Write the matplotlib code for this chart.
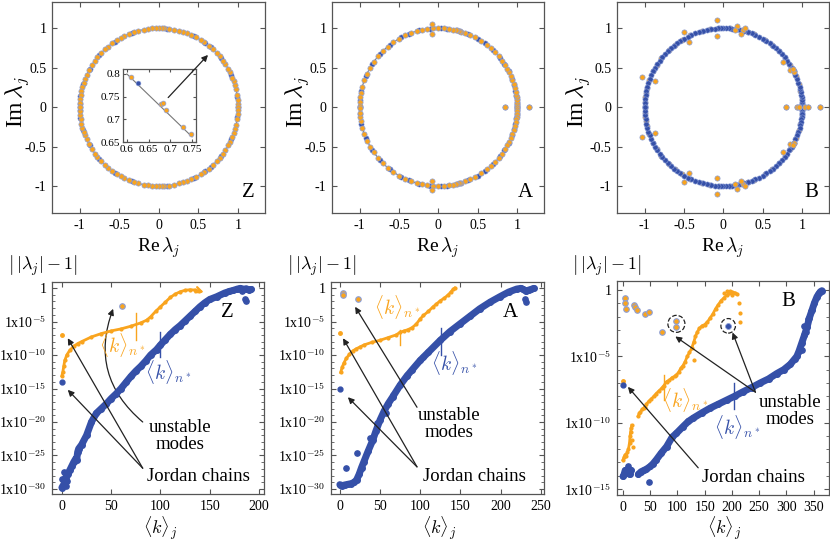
import numpy as np
import matplotlib
matplotlib.use('Agg')
import matplotlib.pyplot as plt
from matplotlib.patches import Circle, FancyArrowPatch

plt.rcParams['font.family'] = 'serif'
plt.rcParams['font.serif'] = ['Liberation Serif', 'DejaVu Serif']
plt.rcParams['mathtext.fontset'] = 'cm'
plt.rcParams['axes.unicode_minus'] = False

ORANGE = '#F9A41E'
BLUE = '#3550A8'
EDGE = '#8C9FD8'
FRAME = '#555555'

# ---- top row: eigenvalues on the unit circle (angles in degrees, upper half; conjugates mirrored) ----
z_orange_deg = [0, 2, 5, 9, 13, 16, 19, 22, 26, 29, 33, 36, 40, 43, 47, 51, 55, 58, 62, 66, 69, 72, 75,
                79, 83, 86, 88, 90, 92, 95, 98, 101, 105, 108, 112, 116, 119, 122, 126, 130, 133, 137,
                141, 144, 148, 152, 156, 159, 162, 165, 168, 171, 174, 177, 180]
z_blue_deg = [7, 24, 38, 49, 54, 64, 84, 110, 124, 139, 151, 163, 172, 178]

a_orange_deg = [0, 1.5, 3, 5, 7, 9, 11, 14, 17, 20, 23, 26, 29, 32, 36, 40, 44, 48, 52, 57, 62, 66, 70,
                73, 74, 75, 76, 77, 79, 82, 86, 90, 94, 98, 102, 106, 110, 115, 120, 125, 130, 135, 140,
                145, 150, 155, 160, 165, 170, 173, 176, 179]
a_blue_deg = [0.5, 2, 4, 6, 8, 12, 16, 21, 27, 33, 38, 46, 54, 60, 68, 84, 88, 96, 104, 112, 118, 128,
              138, 147, 157, 168, 175, 180]
a_off_re = [-0.08, -0.08, 0.85, 1.15]
a_off_im = [1.05, 0.93, 0.0, 0.0]

b_blue_deg = [0, 1, 2, 3, 4, 5, 7, 9, 11, 13, 15, 18, 21, 24, 27, 30, 33, 36, 39, 42, 45, 48, 51, 54,
              57, 60, 63, 66, 69, 72, 75, 78, 81, 84, 86, 88, 90, 92, 94, 96, 99, 102, 105, 108, 111,
              114, 117, 120, 123, 126, 129, 132, 135, 138, 141, 144, 147, 150, 153, 156, 159, 162, 165,
              168, 171, 174, 177, 180]
b_orange_deg = [6, 12, 17, 23, 27, 32, 38, 45, 52, 58, 67, 72, 76, 80, 85, 93, 100, 106, 115, 122, 128,
                134, 142, 148, 153, 160, 166, 170, 173, 176, 179]
b_off_re = [1.22, 0.80, 0.93, 0.96, 1.04, 1.07, -0.08, -0.08, -0.50, -0.44, -1.03, -0.87, 0.17, 0.15,
            0.25, 0.27, 0.22, 0.75, 0.85, 0.90, 0.88]
b_off_im = [0.0, 0.0, 0.0, 0.0, 0.0, 0.0, 1.10, 0.90, 0.95, 0.83, 0.38, 0.33, 1.03, 0.97, 0.97, 1.00,
            0.93, 0.57, 0.47, 0.45, 0.48]

# inset of panel Z
inset_orange_re = [0.610, 0.678, 0.683, 0.690, 0.730, 0.748]
inset_orange_im = [0.793, 0.733, 0.737, 0.720, 0.684, 0.667]
inset_blue_re = [0.625]
inset_blue_im = [0.780]

# ---- bottom row: ||lambda_j| - 1| vs <k>_j  (log10 values) ----
z_blue_k = [0, 2, 4, 6, 8, 10, 12, 14, 15, 16, 17, 20, 25, 30, 35, 40, 45, 50, 55, 60, 65, 70, 75, 80,
            85, 90, 96, 100, 105, 110, 115, 120, 125, 130, 135, 140, 145, 150, 157, 165, 170, 174, 178,
            181, 184, 187, 190, 192]
z_blue_log = [-29.8, -29.3, -28.6, -27.8, -27.2, -26.6, -26.0, -25.5, -25.7, -24.5, -24.0, -23.4, -22.0,
              -20.0, -18.7, -18.0, -17.3, -16.5, -15.8, -15.0, -14.1, -13.2, -12.4, -11.7, -10.9, -10.0,
              -9.2, -8.5, -7.7, -6.9, -6.2, -5.6, -4.9, -4.2, -3.5, -2.8, -2.2, -1.7, -1.3, -0.75,
              -0.5, -0.34, -0.15, -0.05, -0.2, -0.1, -0.3, -0.2]
z_blue_extra_k = [0, 1, 3, 4, 5, 2, 186, 187, 180, 183]
z_blue_extra_log = [-28.5, -29.6, -28.2, -29.5, -28.8, -27.4, -1.6, -2.0, -0.1, -0.4]
z_orange_k = [0, 1, 2, 3, 5, 8, 12, 16, 20, 30, 40, 50, 60, 70, 80, 86, 90, 95, 100, 105, 110, 115,
              120, 125, 130, 135, 139]
z_orange_log = [-13.1, -12.5, -11.6, -10.8, -10.0, -9.3, -8.7, -8.3, -8.0, -7.3, -6.8, -6.4, -6.1, -5.7,
                -5.2, -4.8, -4.3, -3.5, -2.8, -2.1, -1.4, -0.9, -0.55, -0.34, -0.25, -0.3, -0.45]
z_jordan_k = [0, 0]
z_jordan_log = [-7.0, -14.0]
z_unstable_k = [61]
z_unstable_log = [-2.7]

a_blue_k = [0, 3, 6, 10, 14, 18, 21, 24, 27, 30, 35, 41, 45, 50, 55, 60, 66, 75, 83, 90, 100, 110,
            125, 137, 150, 162, 174, 187, 199, 210, 220, 225, 228, 232, 235, 238, 241]
a_blue_log = [-29.35, -29.5, -29.4, -29.3, -29.2, -29.0, -28.6, -27.8, -26.8, -25.9, -24.4, -22.7,
              -21.3, -19.7, -18.4, -17.3, -16.2, -14.5, -13.2, -12.2, -10.8, -9.6, -7.8, -6.5, -5.3,
              -4.2, -3.1, -2.1, -1.3, -0.6, -0.15, -0.05, -0.2, -0.5, -0.3, -0.2, -0.05]
a_blue_extra_k = [8, 21, 37, 40, 46, 58, 66, 83, 104, 232, 230]
a_blue_extra_log = [-26.9, -24.6, -22.4, -22.9, -20.2, -18.7, -16.0, -13.0, -10.3, -2.1, -1.7]
a_orange_k = [1, 3, 5, 8, 12, 16, 20, 25, 30, 40, 50, 60, 70, 75, 80, 85, 90, 95, 100, 104, 110, 116,
              120, 125, 130, 135, 138, 141, 143]
a_orange_log = [-12.6, -11.8, -11.2, -10.5, -9.9, -9.4, -9.1, -8.8, -8.5, -8.1, -7.8, -7.4, -7.0, -6.6,
                -6.4, -6.2, -5.9, -5.4, -4.6, -4.1, -3.5, -2.8, -2.4, -1.9, -1.5, -1.0, -0.6, -0.2, 0.0]
a_jordan_k = [0, 0]
a_jordan_log = [-6.7, -15.0]
a_unstable_k = [4, 4, 22]
a_unstable_log = [-0.75, -1.1, -1.7]

b_blue_k = [0, 2, 4, 6, 9, 12, 15, np.nan, 28, 33, 38, 43, 50, 55, 61, 70, 80, 90, 98, 110, 120, 129,
            145, 160, 175, 190, 205, 221, 236, 252, 267, 282, 295, 307, 315, 319, 323, 328, 333, 338,
            342, 347, 351, 356, 360, 362, 365]
b_blue_log = [-14.05, -13.9, -13.6, -13.8, -13.5, -13.9, -13.6, np.nan, -13.9, -13.7, -13.6, -13.5,
              -13.3, -13.1, -12.8, -12.3, -11.8, -11.1, -10.8, -10.3, -9.9, -9.65, -9.25, -8.9, -8.6,
              -8.3, -8.0, -7.65, -7.35, -7.0, -6.7, -6.3, -6.0, -5.6, -5.2, -5.0, -4.6, -4.0, -3.4,
              -2.76, -2.1, -1.5, -1.0, -0.5, -0.25, -0.13, -0.05]
b_blue_extra_k = [48, 9, 332, 336, 340, 345, 328, 358]
b_blue_extra_log = [-14.5, -13.3, -2.7, -3.2, -2.2, -1.6, -4.5, -0.3]
b_orange_k = [0, 2, 4, 6, 8, 10, 12, 13, 14, 15, 16, np.nan, 28, 30, 32, 35, 38, 40, 43, 47, 52, 57,
              61, 66, 71, 75, 80, 85, 90, 95, 98, 102, 106, 110, 114, 118, 122, 126, 130, 133, 136, 140,
              145, 150, 155, 160, 165, 170, 175, 180, 185, 190, 195, 200, 205, 209]
b_orange_log = [-12.8, -12.6, -12.4, -12.5, -12.2, -12.0, -11.5, -11.0, -10.7, -10.4, -10.2, np.nan,
                -9.5, -9.3, -9.2, -9.0, -8.9, -8.8, -8.6, -8.4, -8.2, -8.0, -7.8, -7.6, -7.4, -7.2,
                -6.9, -6.8, -6.6, -6.5, -6.4, -6.2, -5.9, -5.7, -5.4, -5.0, -4.7, -4.4, -3.9, -3.5,
                -3.2, -2.9, -2.7, -2.6, -2.4, -2.1, -1.8, -1.4, -1.1, -0.8, -0.6, -0.4, -0.25, -0.15,
                -0.2, -0.3]
b_orange_extra_k = [212, 214, 215, 130, 190, 200, 186, 196, 16, 18]
b_orange_extra_log = [-1.0, -1.7, -2.4, -5.3, -0.1, -0.35, -0.2, -0.1, -11.3, -11.8]
b_jordan_k = [0, 0]
b_jordan_log = [-6.85, -7.15]
b_unstable_k = [4, 4, 6, 20, 22, 26, 40, 48, 71, 98, 98]
b_unstable_log = [-0.63, -1.0, -1.45, -1.13, -1.3, -1.5, -1.83, -1.63, -3.2, -2.33, -2.76]
b_unstable_blue_k = [193]
b_unstable_blue_log = [-2.7]


def P(x, y):
    return x / 830.0, 1 - y / 541.0


def ax_px(l, t, r, b):
    return [l / 830.0, 1 - b / 541.0, (r - l) / 830.0, (b - t) / 541.0]


def style_frame(ax):
    for s in ax.spines.values():
        s.set_color(FRAME)
        s.set_linewidth(0.9)
    ax.tick_params(which='both', direction='in', top=True, right=True, color=FRAME,
                   labelsize=10, pad=4)
    ax.tick_params(which='major', length=3.5)
    ax.tick_params(which='minor', length=2)


def circle_panel(ax, orange_deg, blue_deg, off_re, off_im, label, blue_on_top=False):
    ax.add_patch(Circle((0, 0), 1, fill=False, color='#777777', lw=0.8, zorder=1))
    o = np.radians(orange_deg)
    b = np.radians(blue_deg)
    ore = np.concatenate([np.cos(o), np.cos(o)])
    oim = np.concatenate([np.sin(o), -np.sin(o)])
    bre = np.concatenate([np.cos(b), np.cos(b)])
    bim = np.concatenate([np.sin(b), -np.sin(b)])
    zb, zo = (3, 2) if blue_on_top else (2, 3)
    ax.scatter(bre, bim, s=14, color=BLUE, edgecolors=EDGE, linewidths=0.4, zorder=zb)
    ax.scatter(ore, oim, s=14, color=ORANGE, edgecolors=EDGE, linewidths=0.5, zorder=zo)
    if off_re:
        ax.scatter(np.concatenate([off_re, off_re]), np.concatenate([off_im, np.negative(off_im)]),
                   s=14, color=ORANGE, edgecolors=EDGE, linewidths=0.5, zorder=4)
    ax.set_xlim(-1.35, 1.34)
    ax.set_ylim(-1.34, 1.33)
    ax.set_xticks([-1, -0.5, 0, 0.5, 1])
    ax.set_xticklabels(['-1', '-0.5', '0', '0.5', '1'])
    ax.set_yticks([-1, -0.5, 0, 0.5, 1])
    ax.set_yticklabels(['-1', '-0.5', '0', '0.5', '1'])
    style_frame(ax)
    ax.text(0.95, 0.05, label, transform=ax.transAxes, ha='right', va='bottom', fontsize=15)


def decay_panel(ax, blue, blue_extra, orange, orange_extra, jordan, unstable):
    bk, bl = blue
    ax.plot(bk, 10.0 ** np.array(bl), color=BLUE, lw=5, solid_capstyle='round', zorder=2)
    ax.plot(bk, 10.0 ** np.array(bl), 'o', color=BLUE, ms=4, zorder=2)
    ek, el = blue_extra
    ax.plot(ek, 10.0 ** np.array(el), 'o', color=BLUE, ms=3.8, zorder=2)
    ok, ol = orange
    ax.plot(ok, 10.0 ** np.array(ol), color=ORANGE, lw=2, marker='o', ms=2, zorder=3)
    if orange_extra is not None:
        ax.plot(orange_extra[0], 10.0 ** np.array(orange_extra[1]), 'o', color=ORANGE, ms=2,
                zorder=3)
    jk, jl = jordan
    ax.plot(jk[0], 10.0 ** jl[0], 'o', color=ORANGE, ms=2.5, zorder=4)
    ax.plot(jk[1], 10.0 ** jl[1], 'o', color=BLUE, ms=3.5, zorder=4)
    uk, ul = unstable
    ax.scatter(uk, 10.0 ** np.array(ul), s=16, color=ORANGE, edgecolors=EDGE, linewidths=0.8,
               zorder=4)
    ax.set_yscale('log')
    style_frame(ax)


fig = plt.figure(figsize=(8.3, 5.41), dpi=100)

# ---------------- top row ----------------
axZ = fig.add_axes(ax_px(52, 2, 265, 213))
circle_panel(axZ, z_orange_deg, z_blue_deg, [], [], 'Z')
axA = fig.add_axes(ax_px(332, 2, 544, 213))
circle_panel(axA, a_orange_deg, a_blue_deg, a_off_re, a_off_im, 'A')
axB = fig.add_axes(ax_px(617, 2, 829, 213))
circle_panel(axB, b_orange_deg, b_blue_deg, b_off_re, b_off_im, 'B', blue_on_top=True)

ins = fig.add_axes(ax_px(123, 69, 196, 142))
ins.plot([0.6, 0.75], [0.8, np.sqrt(1 - 0.75 ** 2)], color='#777777', lw=0.8, zorder=1)
ins.scatter(inset_blue_re, inset_blue_im, s=12, color=BLUE, edgecolors=EDGE, linewidths=0.4, zorder=2)
ins.scatter(inset_orange_re, inset_orange_im, s=12, color=ORANGE, edgecolors=EDGE, linewidths=0.5,
            zorder=3)
ins.set_xlim(0.591, 0.759)
ins.set_ylim(0.65, 0.811)
ins.set_xticks([0.6, 0.65, 0.7, 0.75])
ins.set_xticklabels(['0.6', '0.65', '0.7', '0.75'])
ins.set_yticks([0.65, 0.7, 0.75, 0.8])
ins.set_yticklabels(['0.65', '0.7', '0.75', '0.8'])
style_frame(ins)
ins.tick_params(labelsize=8, pad=2, length=2.5)
ins.annotate('', xy=(0.62, 0.66), xycoords=axZ.transData, xytext=(0.695, 0.748), textcoords='data',
             arrowprops=dict(arrowstyle='-|>', color='#222222', lw=0.9, mutation_scale=9,
                             shrinkA=0, shrinkB=0), annotation_clip=False)

for cx, ix in [(159, 17), (438, 297), (723, 578)]:
    fig.text(*P(cx, 248), r'Re$\,\lambda_j$', ha='center', va='center', fontsize=14)
    fig.text(*P(ix, 102), r'Im$\,\lambda_j$', ha='center', va='center', fontsize=17, rotation=90)

# ---------------- bottom row ----------------
dZ = fig.add_axes(ax_px(52, 282, 264, 494))
decay_panel(dZ, (z_blue_k, z_blue_log), (z_blue_extra_k, z_blue_extra_log),
            (z_orange_k, z_orange_log), None, (z_jordan_k, z_jordan_log),
            (z_unstable_k, z_unstable_log))
dA = fig.add_axes(ax_px(331, 282, 544, 494))
decay_panel(dA, (a_blue_k, a_blue_log), (a_blue_extra_k, a_blue_extra_log),
            (a_orange_k, a_orange_log), None, (a_jordan_k, a_jordan_log),
            (a_unstable_k, a_unstable_log))
dB = fig.add_axes(ax_px(617, 281, 829, 495))
decay_panel(dB, (b_blue_k, b_blue_log), (b_blue_extra_k, b_blue_extra_log),
            (b_orange_k, b_orange_log), (b_orange_extra_k, b_orange_extra_log),
            (b_jordan_k, b_jordan_log), (b_unstable_k, b_unstable_log))
dB.scatter(b_unstable_blue_k, 10.0 ** np.array(b_unstable_blue_log), s=18, color=BLUE,
           edgecolors=EDGE, linewidths=0.6, zorder=4)
dB.scatter([98, 193], [10 ** -2.55, 10 ** -2.7], s=[150, 110], facecolors='none', edgecolors='#222222',
           linewidths=0.9, linestyles='--', zorder=5)

for ax in (dZ, dA):
    ax.set_ylim(10 ** -30.75, 10 ** 0.9)
    ax.set_yticks([10.0 ** -e for e in range(0, 31, 5)])
    ax.set_yticklabels(['1'] + [r'1x10$^{-%d}$' % e for e in range(5, 31, 5)])
    ax.set_yticks([10.0 ** -e for e in range(0, 31)], minor=True)
    ax.set_yticklabels([], minor=True)
dB.set_ylim(10 ** -15.45, 10 ** 0.68)
dB.set_yticks([10.0 ** -e for e in range(0, 16, 5)])
dB.set_yticklabels(['1'] + [r'1x10$^{-%d}$' % e for e in range(5, 16, 5)])
dB.set_yticks([10.0 ** -e for e in range(0, 16)], minor=True)
dB.set_yticklabels([], minor=True)

dZ.set_xlim(-10, 205)
dZ.set_xticks([0, 50, 100, 150, 200])
dA.set_xlim(-11, 254)
dA.set_xticks([0, 50, 100, 150, 200, 250])
dB.set_xlim(-11, 378)
dB.set_xticks([0, 50, 100, 150, 200, 250, 300, 350])

arrow = dict(arrowstyle='-|>', color='#222222', lw=0.9, mutation_scale=9, shrinkA=0, shrinkB=0)
kfs = 14
tfs = 13.5
lab = r'$\langle k\rangle_{n^*}$'

# panel Z annotations
dZ.plot([75, 75], [10 ** -3.7, 10 ** -7.8], color=ORANGE, lw=1)
dZ.plot([100, 100], [10 ** -6.6, 10 ** -10.3], color=BLUE, lw=1)
dZ.text(61, 10 ** -8.5, lab, color=ORANGE, ha='center', va='center', fontsize=kfs)
dZ.text(108, 10 ** -12.5, lab, color=BLUE, ha='center', va='center', fontsize=kfs)
dZ.text(168, 10 ** -3.6, 'Z', ha='center', va='center', fontsize=15)
dZ.text(120, 10 ** -22.1, 'unstable\nmodes', ha='center', va='center', fontsize=tfs, linespacing=1.0)
dZ.text(139, 10 ** -28.2, 'Jordan chains', ha='center', va='center', fontsize=tfs)
dZ.annotate('', xy=(6, 10 ** -7.5), xytext=(82, 10 ** -26.9), arrowprops=arrow)
dZ.annotate('', xy=(6, 10 ** -15.2), xytext=(82, 10 ** -26.9), arrowprops=arrow)
dZ.add_patch(FancyArrowPatch((82, 10 ** -20.0), (52, 10 ** -3.1), connectionstyle='arc3,rad=-0.35',
                             arrowstyle='-|>', color='#222222', lw=0.9, mutation_scale=9,
                             shrinkA=0, shrinkB=0))
dZ.annotate('', xy=(144, 10 ** -0.65), xytext=(139, 10 ** -0.4),
            arrowprops=dict(arrowstyle='->', color=ORANGE, lw=1.6, mutation_scale=10,
                            shrinkA=0, shrinkB=0))

# panel A annotations
dA.plot([75, 75], [10 ** -6.3, 10 ** -8.5], color=ORANGE, lw=1)
dA.plot([126, 126], [10 ** -6.0, 10 ** -10.0], color=BLUE, lw=1)
dA.text(71, 10 ** -2.8, lab, color=ORANGE, ha='center', va='center', fontsize=kfs)
dA.text(142, 10 ** -11.2, lab, color=BLUE, ha='center', va='center', fontsize=kfs)
dA.text(212, 10 ** -3.7, 'A', ha='center', va='center', fontsize=15)
dA.text(136, 10 ** -20.3, 'unstable\nmodes', ha='center', va='center', fontsize=tfs, linespacing=1.0)
dA.text(167, 10 ** -28.2, 'Jordan chains', ha='center', va='center', fontsize=tfs)
dA.annotate('', xy=(19, 10 ** -2.8), xytext=(96, 10 ** -17.8), arrowprops=arrow)
dA.annotate('', xy=(4, 10 ** -7.5), xytext=(96, 10 ** -26.7), arrowprops=arrow)
dA.annotate('', xy=(10, 10 ** -16.3), xytext=(96, 10 ** -26.7), arrowprops=arrow)

# panel B annotations
dB.plot([75, 75], [10 ** -6.4, 10 ** -8.3], color=ORANGE, lw=1)
dB.plot([204, 204], [10 ** -7.0, 10 ** -9.0], color=BLUE, lw=1)
dB.text(114, 10 ** -8.3, lab, color=ORANGE, ha='center', va='center', fontsize=kfs)
dB.text(210, 10 ** -10.3, lab, color=BLUE, ha='center', va='center', fontsize=kfs)
dB.text(304, 10 ** -0.9, 'B', ha='center', va='center', fontsize=15)
dB.text(307, 10 ** -9.1, 'unstable\nmodes', ha='center', va='center', fontsize=tfs, linespacing=1.0)
dB.text(239, 10 ** -14.1, 'Jordan chains', ha='center', va='center', fontsize=tfs)
dB.annotate('', xy=(96, 10 ** -3.5), xytext=(243, 10 ** -7.7), arrowprops=arrow)
dB.annotate('', xy=(201, 10 ** -3.2), xytext=(243, 10 ** -7.7), arrowprops=arrow)
dB.annotate('', xy=(9, 10 ** -7.3), xytext=(138, 10 ** -13.4), arrowprops=arrow)

for lx in (8, 287, 572):
    fig.text(*P(lx, 266), r'$\left|\,|\lambda_j| - 1\right|$', ha='left', va='center', fontsize=13)
for cx in (160, 439, 724):
    fig.text(*P(cx, 528), r'$\langle k\rangle_j$', ha='center', va='center', fontsize=13)

plt.savefig('out.png', dpi=100)
plt.close()
